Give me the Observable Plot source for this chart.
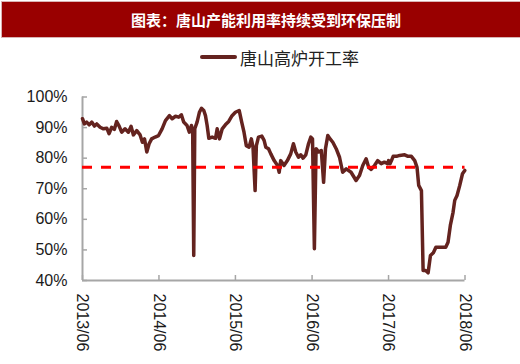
<!DOCTYPE html>
<html><head><meta charset="utf-8">
<script src="https://cdn.jsdelivr.net/npm/d3@7"></script>
<script src="https://cdn.jsdelivr.net/npm/@observablehq/plot@0.6"></script>
<style>
body{margin:0;background:#fff;}
#wrap{position:relative;width:520px;height:364px;overflow:hidden;background:#fff;}
#title{position:absolute;left:1px;top:1px;width:516px;height:35px;background:#990000;border:1px solid #d9b3b3;color:#fff;font:bold 15px "Noto Sans CJK SC",sans-serif;display:flex;align-items:center;justify-content:center;padding-left:6px;box-sizing:content-box;}
#swatch{position:absolute;left:200px;top:55px;width:37px;height:4px;border-radius:2px;background:#64231f;}
#legtext{position:absolute;left:240px;top:48px;font:17px/20px "Noto Sans CJK SC",sans-serif;color:#222;}
#chart{position:absolute;left:0;top:75px;}
</style></head>
<body>
<div id="wrap">
  <div id="title">图表：唐山产能利用率持续受到环保压制</div>
  <div id="swatch"></div>
  <div id="legtext">唐山高炉开工率</div>
  <div id="chart"></div>
</div>
<script>
const seriesName = "唐山高炉开工率";
const dates = [
"2013-06-01","2013-06-10","2013-06-21","2013-07-03","2013-07-15","2013-07-28","2013-08-08","2013-08-24","2013-09-09","2013-09-25",
"2013-10-06","2013-10-18","2013-10-31","2013-11-11","2013-11-23","2013-12-05","2013-12-21","2014-01-06","2014-01-19","2014-01-30",
"2014-02-15","2014-03-03","2014-03-14","2014-03-24","2014-04-04","2014-04-15","2014-04-27","2014-05-14","2014-05-30","2014-06-16",
"2014-07-02","2014-07-21","2014-08-03","2014-08-19","2014-09-03","2014-09-16","2014-09-27","2014-10-13","2014-10-24","2014-11-03",
"2014-11-09","2014-11-14","2014-11-19","2014-11-30","2014-12-11","2014-12-21","2015-01-01","2015-01-09","2015-01-17","2015-01-25",
"2015-02-10","2015-02-26","2015-03-06","2015-03-17","2015-03-30","2015-04-14","2015-04-30","2015-05-16","2015-06-01","2015-06-19",
"2015-07-01","2015-07-12","2015-07-23","2015-08-05","2015-08-16","2015-08-24","2015-09-03","2015-09-09","2015-09-19","2015-10-05",
"2015-10-16","2015-10-24","2015-11-06","2015-11-17","2015-12-03","2015-12-19","2015-12-27","2016-01-03","2016-01-19","2016-02-04",
"2016-02-20","2016-03-04","2016-03-15","2016-03-28","2016-04-08","2016-04-19","2016-05-02","2016-05-15","2016-05-26","2016-06-03",
"2016-06-12","2016-06-20","2016-07-03","2016-07-15","2016-07-26","2016-08-04","2016-08-15","2016-08-26","2016-09-08","2016-09-24",
"2016-10-10","2016-10-25","2016-11-11","2016-12-04","2016-12-28","2017-01-13","2017-01-29","2017-02-14","2017-02-26","2017-03-10",
"2017-03-26","2017-04-10","2017-04-27","2017-05-12","2017-05-28","2017-06-01","2017-06-08","2017-06-15","2017-06-23","2017-07-09",
"2017-07-24","2017-08-17","2017-09-02","2017-09-18","2017-10-04","2017-10-15","2017-10-23","2017-11-05","2017-11-13","2017-11-25",
"2017-12-07","2017-12-18","2018-01-01","2018-01-13","2018-02-01","2018-03-01","2018-03-12","2018-03-23","2018-04-05","2018-04-13",
"2018-04-24","2018-05-07","2018-05-20","2018-05-31"
];
const rates = [
92.9,91.2,91.8,90.9,91.8,90.5,91.2,90.1,89.6,89.8,
88.0,90.1,89.4,92.0,90.5,88.5,89.6,88.5,90.4,87.6,
89.0,87.6,85.2,86.3,82.0,84.7,86.3,86.9,87.4,89.6,
92.3,93.9,92.9,93.7,93.4,94.2,91.8,90.7,88.5,90.7,
88.5,48.2,89.6,91.8,95.0,96.3,95.6,93.9,90.7,86.5,
86.9,86.5,89.6,86.3,89.6,90.9,92.0,93.9,95.0,95.6,
91.8,88.5,84.1,83.6,86.3,83.6,69.4,84.1,86.9,87.2,
85.8,83.6,83.1,81.4,79.2,77.6,75.4,79.2,77.6,79.2,
81.4,84.7,82.0,80.3,81.1,80.0,81.1,84.7,86.9,86.3,
50.4,83.1,82.0,82.5,72.1,83.1,87.4,86.3,85.2,83.1,
80.3,75.4,76.5,75.4,72.7,74.3,77.6,79.8,77.0,76.3,
77.6,79.2,78.2,78.7,78.2,79.2,78.2,79.2,80.6,80.6,
80.9,81.1,80.6,80.6,79.2,77.0,71.1,69.4,43.3,43.3,
42.5,48.2,49.1,50.9,50.9,50.9,52.5,58.0,62.3,66.2,
67.8,71.1,74.9,76.0
];
const refLevel = 77;
const yTicks = [40, 50, 60, 70, 80, 90, 100];
const xTickLabels = ["2013-06-01","2014-06-01","2015-06-01","2016-06-01","2017-06-01","2018-06-01"];

const data = dates.map((d, i) => ({date: new Date(d), rate: rates[i]}));
const xTicks = xTickLabels.map(d => new Date(d));
const xDomain = [xTicks[0], xTicks[xTicks.length - 1]];
const axisGray = "#a6a6a6";

const chart = Plot.plot({
  width: 520,
  height: 289,
  marginLeft: 82,
  marginRight: 55.5,
  marginTop: 21.5,
  marginBottom: 84,
  style: {fontFamily: "'Liberation Sans', Arial, sans-serif", fontSize: "16px", background: "transparent", color: "#1a1a1a"},
  x: {type: "utc", domain: xDomain},
  y: {domain: [40, 100]},
  marks: [
    Plot.axisY({ticks: yTicks, tickSize: 0, tickPadding: 15, tickFormat: d => d + "%", fill: "#1a1a1a", fontSize: 16, label: null}),
    Plot.axisY({ticks: yTicks, tickSize: 5, dx: 5, tickFormat: () => "", stroke: axisGray, strokeWidth: 1.5, label: null}),
    Plot.axisX({ticks: xTicks, tickSize: 0, tickPadding: 13, tickRotate: 90, tickFormat: d3.utcFormat("%Y/%m"), fill: "#1a1a1a", fontSize: 16, label: null}),
    Plot.axisX({ticks: xTicks, tickSize: 5, dy: -5, tickFormat: () => "", stroke: axisGray, strokeWidth: 1.5, label: null}),
    Plot.ruleX([xDomain[0]], {stroke: axisGray, strokeWidth: 2}),
    Plot.ruleY([40], {stroke: axisGray, strokeWidth: 2}),
    Plot.line(data, {x: "date", y: "rate", stroke: "#64231f", strokeWidth: 3.5, strokeLinejoin: "round", strokeLinecap: "round"}),
    Plot.ruleY([refLevel], {x1: xDomain[0], x2: xDomain[1], stroke: "#ff0000", strokeWidth: 3, strokeDasharray: "10,9"})
  ]
});
document.getElementById("chart").appendChild(chart);
</script>
</body></html>
